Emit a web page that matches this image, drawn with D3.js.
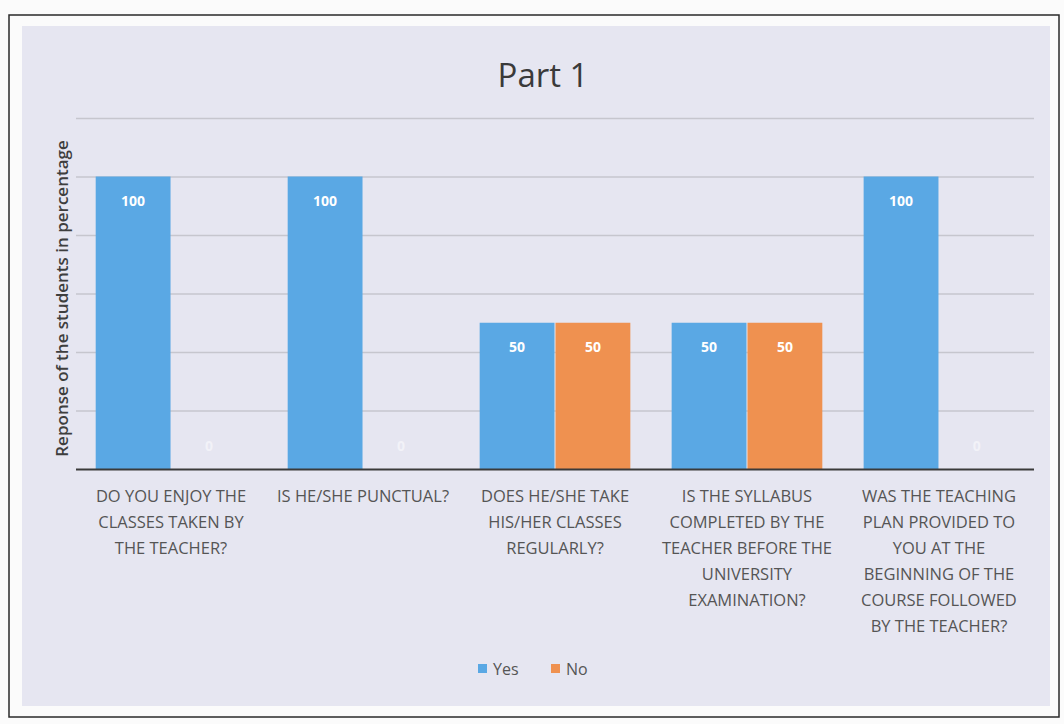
<!DOCTYPE html>
<html>
<head>
<meta charset="utf-8">
<script src="https://cdn.jsdelivr.net/npm/d3@7"></script>
<style>
  html, body { margin: 0; padding: 0; background: #ffffff; }
  svg { display: block; }
</style>
</head>
<body>
<svg id="chart" width="1064" height="724"></svg>
<script>
// ---- data ----
const title = "Part 1";
const yAxisTitle = "Reponse of the students in percentage";
const categories = [
  ["DO YOU ENJOY THE", "CLASSES TAKEN BY", "THE TEACHER?"],
  ["IS HE/SHE PUNCTUAL?"],
  ["DOES HE/SHE TAKE", "HIS/HER CLASSES", "REGULARLY?"],
  ["IS THE SYLLABUS", "COMPLETED BY THE", "TEACHER BEFORE THE", "UNIVERSITY", "EXAMINATION?"],
  ["WAS THE TEACHING", "PLAN PROVIDED TO", "YOU AT THE", "BEGINNING OF THE", "COURSE FOLLOWED", "BY THE TEACHER?"]
];
const seriesNames = ["Yes", "No"];
const yesValues = [100, 100, 50, 50, 100];
const noValues = [0, 0, 50, 50, 0];
const yTicks = [0, 20, 40, 60, 80, 100, 120];
const seriesColors = ["#5AA8E4", "#EF9150"];

// ---- layout ----
const svg = d3.select("#chart");
const W = 1064, H = 724;
const plot = { left: 76, right: 1034, top: 118, bottom: 469 };
const font = "'Open Sans', 'Noto Sans', sans-serif";

// page and frame
svg.append("rect").attr("x", 0).attr("y", 0).attr("width", W).attr("height", H).attr("fill", "#fbfbfb");
svg.append("rect").attr("x", 22).attr("y", 26).attr("width", 1028).attr("height", 680)
  .attr("fill", "#E6E6F1");
svg.append("rect").attr("x", 9).attr("y", 15).attr("width", 1050).attr("height", 702)
  .attr("fill", "none").attr("stroke", "#2a2a2a").attr("stroke-width", 1.5);

const keys = categories.map((c, i) => i);
const x0 = d3.scaleBand().domain(keys).range([plot.left, plot.right]).paddingInner(0.21).paddingOuter(0.1);
const x1 = d3.scaleBand().domain(seriesNames).range([0, x0.bandwidth()]).padding(0);
const y = d3.scaleLinear().domain([0, 120]).range([plot.bottom, plot.top]);

// gridlines
const grid = d3.axisLeft(y).tickValues(yTicks.slice(1)).tickSize(-(plot.right - plot.left)).tickFormat("");
svg.append("g").attr("transform", `translate(${plot.left},0)`).call(grid)
  .call(g => g.select(".domain").remove())
  .call(g => g.selectAll("line").attr("stroke", "#C6C6CE").attr("stroke-width", 1.3));

// title
svg.append("text").attr("x", 543).attr("y", 87).attr("text-anchor", "middle")
  .attr("font-family", font).attr("font-size", 33).attr("font-weight", 400)
  .attr("fill", "#3a3a3a").text(title);

// y axis title
svg.append("text")
  .attr("transform", `translate(68, ${(plot.top + plot.bottom) / 2 + 5}) rotate(-90)`)
  .attr("text-anchor", "middle").attr("font-family", font).attr("font-size", 17).attr("font-weight", 600)
  .attr("fill", "#3e3e3e").text(yAxisTitle);

// bars
const rows = keys.map(i => ({ i, vals: [yesValues[i], noValues[i]] }));
const groups = svg.append("g").selectAll("g").data(rows).join("g")
  .attr("transform", d => `translate(${x0(d.i)},0)`);
groups.selectAll("rect").data(d => d.vals.map((v, k) => ({ v, k })))
  .join("rect")
  .attr("x", d => x1(seriesNames[d.k]) + 0.5)
  .attr("width", x1.bandwidth() - 1)
  .attr("y", d => y(d.v))
  .attr("height", d => y(0) - y(d.v))
  .attr("fill", d => seriesColors[d.k]);
groups.selectAll("text").data(d => d.vals.map((v, k) => ({ v, k })))
  .join("text")
  .attr("x", d => x1(seriesNames[d.k]) + x1.bandwidth() / 2)
  .attr("y", d => d.v > 0 ? y(d.v) + 29 : y(0) - 18)
  .attr("text-anchor", "middle").attr("font-family", font).attr("font-size", 14).attr("font-weight", 700)
  .attr("fill", d => d.v > 0 ? "#ffffff" : "#f2f2f8")
  .text(d => d.v);

// x axis baseline
svg.append("g").attr("transform", `translate(0,${plot.bottom})`)
  .call(d3.axisBottom(x0).tickSize(0).tickFormat(""))
  .call(g => g.select(".domain").attr("stroke", "#3a3a3a").attr("stroke-width", 2.2)
    .attr("d", `M${plot.left},0.5H${plot.right}`));

// category labels
const catG = svg.append("g");
keys.forEach(i => {
  const t = catG.append("text").attr("x", x0(i) + x0.bandwidth() / 2).attr("y", plot.bottom + 33)
    .attr("text-anchor", "middle").attr("font-family", font).attr("font-size", 16.5)
    .attr("fill", "#555555");
  categories[i].forEach((line, j) => {
    t.append("tspan").attr("x", x0(i) + x0.bandwidth() / 2).attr("dy", j === 0 ? 0 : 26).text(line);
  });
});

// legend
const legend = svg.append("g").attr("transform", "translate(478,669)");
const legX = [0, 73];
seriesNames.forEach((n, k) => {
  const g = legend.append("g").attr("transform", `translate(${legX[k]},0)`);
  g.append("rect").attr("x", 0).attr("y", -5).attr("width", 9).attr("height", 9).attr("fill", seriesColors[k]);
  g.append("text").attr("x", 15).attr("y", 6).attr("font-family", font).attr("font-size", 16)
    .attr("fill", "#555555").text(n);
});
</script>
</body>
</html>
